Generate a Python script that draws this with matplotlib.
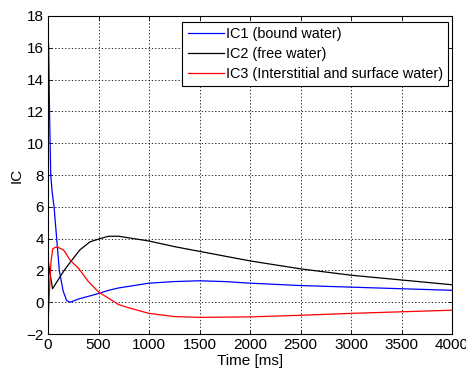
import matplotlib
matplotlib.use("Agg")
import matplotlib.pyplot as plt

plt.rcParams['font.family'] = ['Liberation Sans', 'DejaVu Sans']

# Time points (ms) and component values
t1 = [0, 7, 15, 27, 40, 60, 86, 112, 150, 185, 220, 300, 415, 500, 600, 700, 850, 1000,
      1250, 1500, 1750, 2000, 2500, 3000, 3500, 4000]
ic1 = [16.8, 16.0, 12.0, 8.0, 7.0, 6.0, 4.0, 2.0, 0.7, 0.1, 0.0, 0.2, 0.4, 0.55, 0.75, 0.9,
       1.05, 1.2, 1.3, 1.35, 1.3, 1.2, 1.05, 0.95, 0.85, 0.75]

t2 = [0, 20, 45, 70, 119, 160, 218, 317, 416, 515, 600, 700, 800, 1000,
      1250, 1500, 1750, 2000, 2500, 3000, 3500, 4000]
ic2 = [2.7, 1.8, 0.85, 1.1, 1.6, 2.0, 2.5, 3.3, 3.8, 4.0, 4.15, 4.15, 4.05, 3.85,
       3.5, 3.2, 2.9, 2.6, 2.1, 1.7, 1.4, 1.1]

t3 = [0, 15, 30, 47, 70, 100, 150, 170, 218, 300, 400, 500, 600, 700, 800, 1000,
      1250, 1500, 2000, 2500, 3000, 3500, 4000]
ic3 = [-1.4, 0.8, 2.6, 3.35, 3.45, 3.45, 3.3, 3.15, 2.65, 2.15, 1.3, 0.65, 0.25, -0.15, -0.35,
       -0.7, -0.9, -0.95, -0.92, -0.82, -0.7, -0.6, -0.5]

labels = ['IC1 (bound water)', 'IC2 (free water)', 'IC3 (Interstitial and surface water)']
xticks = list(range(0, 4001, 500))
yticks = list(range(-2, 19, 2))

fig = plt.figure(figsize=(4.66, 3.72), dpi=100)
ax = fig.add_axes([0.103, 0.102, 0.867, 0.855])

ax.plot(t1, ic1, color='#0000ff', lw=0.9, label=labels[0])
ax.plot(t2, ic2, color='#000000', lw=0.9, label=labels[1])
ax.plot(t3, ic3, color='#ff0000', lw=0.9, label=labels[2])

ax.set_xlim(0, 4000)
ax.set_ylim(-2, 18)
ax.set_xticks(xticks)
ax.set_yticks(yticks)
ax.tick_params(direction='in', top=True, right=True, labelsize=11, length=3, width=0.6, pad=3)
ax.grid(True, color='black', linestyle=(0, (1.5, 2.5)), linewidth=0.6)
for s in ax.spines.values():
    s.set_linewidth(0.8)

ax.set_xlabel('Time [ms]', fontsize=11, labelpad=1)
ax.set_ylabel('IC', fontsize=11, labelpad=2)

leg = ax.legend(loc='upper right', bbox_to_anchor=(0.99, 0.981), fontsize=10.4,
                frameon=True, fancybox=False, edgecolor='black', framealpha=1,
                handlelength=2.5, handletextpad=0.15, borderpad=0.35,
                labelspacing=0.4, borderaxespad=0.0)
leg.get_frame().set_linewidth(0.8)

fig.savefig('out.png', dpi=100)
